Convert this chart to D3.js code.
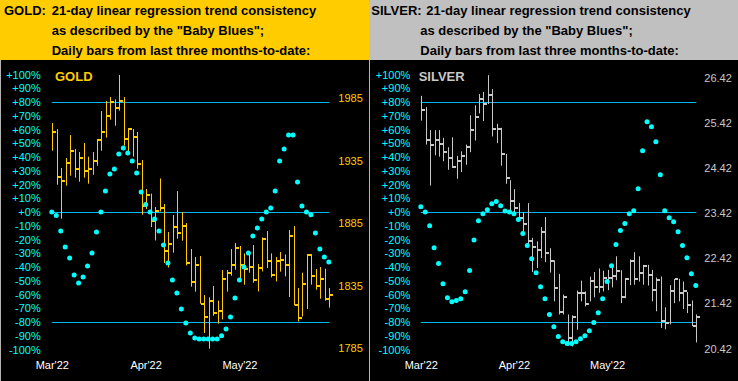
<!DOCTYPE html>
<html>
<head>
<meta charset="utf-8">
<script src="https://cdn.jsdelivr.net/npm/d3@7"></script>
<style>
  body { margin: 0; background: #000; }
  svg text { font-family: Arial, "Liberation Sans", sans-serif; }
</style>
</head>
<body>
<div id="chart"></div>
<script>

// daily bars, index 0 = first trading day of March 2022
var goldHigh = [1965.2,1960.4,1929.2,1937.2,1955.6,1944.4,1942.0,1949.2,1938.3,1942.0,1952.4,1974.8,1982.8,1986.0,1984.1,2003.6,1986.0,1961.2,1960.4,1958.0,1935.6,1912.4,1908.7,1898.0,1920.9,1900.4,1878.0,1891.6,1910.8,1894.0,1885.2,1864.4,1858.0,1858.8,1827.6,1825.7,1834.8,1823.1,1847.6,1847.6,1864.4,1869.2,1866.8,1860.9,1861.5,1867.6,1852.4,1873.7,1878.8,1860.9,1858.0,1862.0,1860.1,1879.6,1882.8,1833.2,1845.5,1860.4,1860.4,1848.4,1850.0,1848.7,1833.2];
var goldLow = [1943.1,1915.9,1888.7,1915.1,1923.1,1921.5,1918.3,1921.5,1916.7,1923.9,1931.1,1943.1,1953.5,1967.9,1963.1,1975.1,1947.1,1940.7,1938.3,1928.7,1891.9,1896.4,1882.0,1871.3,1894.5,1853.2,1849.7,1861.5,1872.7,1871.1,1851.3,1834.3,1830.3,1820.7,1797.2,1784.7,1811.1,1804.7,1808.1,1830.3,1843.1,1847.9,1839.6,1835.9,1845.5,1837.5,1830.5,1846.5,1849.2,1841.7,1838.5,1846.3,1842.5,1826.0,1819.3,1806.5,1810.5,1816.4,1835.9,1831.9,1824.7,1823.1,1817.5];
var goldClose = [1958.3,1922.3,1919.1,1933.5,1943.1,1928.7,1937.5,1927.1,1928.7,1935.1,1951.6,1958.3,1971.1,1982.3,1977.5,1983.1,1952.7,1960.7,1954.0,1932.7,1899.1,1907.3,1887.1,1895.1,1897.5,1863.1,1868.7,1882.3,1877.5,1882.8,1853.5,1837.7,1851.9,1820.7,1810.3,1823.1,1813.2,1815.1,1840.7,1845.5,1851.9,1865.5,1851.9,1848.7,1850.3,1839.9,1849.5,1872.7,1854.5,1843.9,1855.1,1855.9,1851.3,1875.1,1819.6,1809.5,1836.1,1859.9,1842.5,1835.1,1840.1,1824.1,1827.9];
// "Baby Blues" = 21-day trend consistency, in %
var goldBlues = [0.2,-2.4,-13.6,-25.2,-33.2,-45.6,-51.4,-47.0,-39.0,-29.6,-14.3,0.2,15.5,27.9,31.5,42.4,46.8,43.2,37.3,28.6,14.8,5.6,0.2,-4.8,-13.6,-23.8,-36.8,-49.2,-58.7,-70.3,-80.5,-87.8,-91.4,-92.1,-92.1,-92.1,-92.1,-92.1,-89.7,-84.8,-76.1,-62.3,-49.2,-39.8,-29.6,-17.2,-11.4,-4.8,0.2,3.2,15.5,37.3,46.1,56.2,56.2,22.1,4.6,0.2,-1.7,-15.0,-26.7,-32.5,-36.1];

var silverHigh = [26.03,25.78,25.27,25.27,25.27,25.10,24.89,25.11,24.70,24.80,24.95,25.60,25.82,26.07,26.12,26.49,26.18,25.41,25.32,24.74,24.16,23.96,23.65,23.45,23.65,22.88,22.80,23.12,23.34,22.65,22.38,22.08,21.62,21.18,21.16,21.71,21.93,21.69,22.02,22.12,22.20,22.15,22.17,22.28,22.47,22.16,21.99,22.40,22.56,22.47,22.28,22.28,22.17,22.00,22.02,21.34,21.83,21.97,21.97,21.91,21.68,21.49,21.18];
var silverLow = [25.48,24.95,24.04,24.71,24.68,24.58,24.39,24.43,24.19,24.34,24.50,24.78,25.04,25.64,25.47,25.85,25.13,24.98,24.48,24.08,23.47,23.42,23.28,22.97,22.73,22.12,22.21,22.43,22.34,22.11,21.47,21.18,21.18,20.49,20.47,20.84,21.47,21.36,21.47,21.56,21.66,21.69,21.72,21.78,21.94,21.43,21.54,21.83,21.84,21.91,21.84,21.82,21.47,21.25,20.88,20.85,20.96,21.43,21.47,21.30,21.21,20.92,20.56];
var silverClose = [25.72,25.04,24.93,25.04,24.97,24.78,24.65,24.46,24.59,24.70,24.90,25.27,25.57,25.96,25.86,26.06,25.29,25.29,24.73,24.21,23.69,23.55,23.33,23.18,22.80,22.68,22.60,23.00,22.54,22.37,21.77,21.23,21.56,20.66,21.13,21.65,21.65,21.41,21.93,21.78,21.78,21.99,21.99,22.03,22.15,21.56,21.97,22.37,21.97,22.09,22.26,22.06,21.72,21.94,21.03,21.00,21.71,21.96,21.65,21.69,21.40,20.93,21.13];
var silverBlues = [4.1,0.2,-9.7,-25.7,-37.3,-51.9,-62.1,-65.0,-64.2,-62.8,-57.7,-42.4,-20.1,-6.1,-1.0,1.9,6.3,7.8,4.8,1.0,0.2,-1.0,-5.3,-15.5,-24.2,-33.7,-43.9,-54.1,-62.8,-74.4,-83.2,-90.4,-94.1,-95.5,-95.5,-94.1,-91.9,-89.7,-86.1,-80.2,-73.0,-62.8,-50.4,-38.8,-23.5,-13.3,-8.2,-1.0,1.2,17.2,44.8,65.9,62.3,51.4,27.4,1.2,-3.9,-6.8,-14.1,-24.2,-33.0,-44.6,-53.3];

var monthLabels = ["Mar'22", "Apr'22", "May'22"];
var monthIndex = [0, 21, 42];
var pctTicks = d3.range(-100, 101, 10);
var pctLines = [80, 0, -80];
var goldPriceTicks = [1785, 1835, 1885, 1935, 1985];
var silverPriceTicks = [20.42, 21.42, 22.42, 23.42, 24.42, 25.42, 26.42];

var svg = d3.select("#chart")
  .append("svg")
  .attr("width", 738)
  .attr("height", 381);

function drawPanel(p) {
  var g = svg.append("g").attr("transform", "translate(" + p.x0 + ",0)");

  // header
  g.append("rect").attr("x", 0).attr("y", 0).attr("width", p.w).attr("height", 60).attr("fill", p.headColor);
  g.append("rect").attr("x", 0).attr("y", 60).attr("width", p.w).attr("height", 321).attr("fill", "#000");
  g.append("line").attr("x1", 0.5).attr("x2", 0.5).attr("y1", 60).attr("y2", 381)
    .attr("stroke", "#b4b4b4").attr("stroke-width", 1);

  var head = g.append("g").attr("font-weight", "bold").attr("font-size", "13px").attr("fill", "#000");
  head.append("text").attr("x", p.nameX).attr("y", 15).text(p.name + ":");
  head.append("text").attr("x", p.line1X).attr("y", 15).text("21-day linear regression trend consistency");
  head.append("text").attr("x", p.lineX).attr("y", 35).text('as described by the "Baby Blues";');
  head.append("text").attr("x", p.lineX).attr("y", 55).text("Daily bars from last three months-to-date:");

  var x = d3.scaleLinear().domain([0, p.high.length - 1]).range(p.xRange);
  var yPct = d3.scaleLinear().domain([-100, 100]).range([349.8, 74.8]);
  var yPrice = d3.scaleLinear().domain(p.priceDomain).range(p.priceRange);

  // left % axis
  g.append("g").selectAll("text")
    .data(pctTicks)
    .enter().append("text")
    .attr("x", p.pctX)
    .attr("y", function(d) { return yPct(d); })
    .attr("dy", "0.35em")
    .attr("text-anchor", "end")
    .attr("font-size", "11px")
    .attr("fill", "#00ffff")
    .text(function(d) { return (d >= 0 ? "+" : "") + d + "%"; });

  // right price axis
  g.append("g").selectAll("text")
    .data(p.priceTicks)
    .enter().append("text")
    .attr("x", p.priceX)
    .attr("y", function(d) { return yPrice(d); })
    .attr("dy", "0.35em")
    .attr("font-size", "11px")
    .attr("fill", p.barColor)
    .text(function(d) { return p.fmt(d); });

  // months
  g.append("g").selectAll("text")
    .data(monthIndex)
    .enter().append("text")
    .attr("x", function(d) { return x(d); })
    .attr("y", 369)
    .attr("text-anchor", "middle")
    .attr("font-size", "11px")
    .attr("fill", "#fff")
    .text(function(d, i) { return monthLabels[i]; });

  // +80 / 0 / -80 lines
  g.append("g").selectAll("line")
    .data(pctLines)
    .enter().append("line")
    .attr("x1", p.xRange[0] - 0.5)
    .attr("x2", p.xRange[1])
    .attr("y1", function(d) { return Math.round(yPct(d)) + 0.5; })
    .attr("y2", function(d) { return Math.round(yPct(d)) + 0.5; })
    .attr("stroke", "#00b8f0")
    .attr("stroke-width", 1);

  g.append("text")
    .attr("x", p.titleX).attr("y", 81)
    .attr("font-size", "13px").attr("font-weight", "bold")
    .attr("fill", p.barColor)
    .text(p.name);

  // bars
  var bars = g.append("g").selectAll("g")
    .data(p.high)
    .enter().append("g");

  bars.append("line")
    .attr("x1", function(d, i) { return Math.round(x(i)) + 0.5; })
    .attr("x2", function(d, i) { return Math.round(x(i)) + 0.5; })
    .attr("y1", function(d) { return yPrice(d); })
    .attr("y2", function(d, i) { return yPrice(p.low[i]); })
    .attr("stroke", p.barColor)
    .attr("stroke-width", 1);

  bars.append("rect")
    .attr("x", function(d, i) { return Math.round(x(i)) + 1; })
    .attr("y", function(d, i) { return Math.round(yPrice(p.close[i])) - 1; })
    .attr("width", 3)
    .attr("height", 2)
    .attr("fill", p.barColor);

  // baby blues
  g.append("g").selectAll("circle")
    .data(p.blues)
    .enter().append("circle")
    .attr("cx", function(d, i) { return x(i) - 0.5; })
    .attr("cy", function(d) { return yPct(d); })
    .attr("r", 2.5)
    .attr("fill", "#00ffff");
}

drawPanel({
  x0: 0, w: 369, name: "GOLD", headColor: "#ffcc00", barColor: "#ffcc00",
  nameX: 4, line1X: 51.7, lineX: 51.7, titleX: 55,
  pctX: 40.7, priceX: 338.3,
  xRange: [52.3, 329.3],
  priceDomain: [1785, 1985], priceRange: [348.3, 98.3], priceTicks: goldPriceTicks,
  fmt: function(d) { return d; },
  high: goldHigh, low: goldLow, close: goldClose, blues: goldBlues
});

drawPanel({
  x0: 369, w: 369, name: "SILVER", headColor: "#c0c0c0", barColor: "#c8c8c8",
  nameX: 2.3, line1X: 57.3, lineX: 51.3, titleX: 49.7,
  pctX: 41.3, priceX: 335.3,
  xRange: [52.3, 327.3],
  priceDomain: [20.42, 26.42], priceRange: [348.7, 78.3], priceTicks: silverPriceTicks,
  fmt: function(d) { return d.toFixed(2); },
  high: silverHigh, low: silverLow, close: silverClose, blues: silverBlues
});

</script>
</body>
</html>
